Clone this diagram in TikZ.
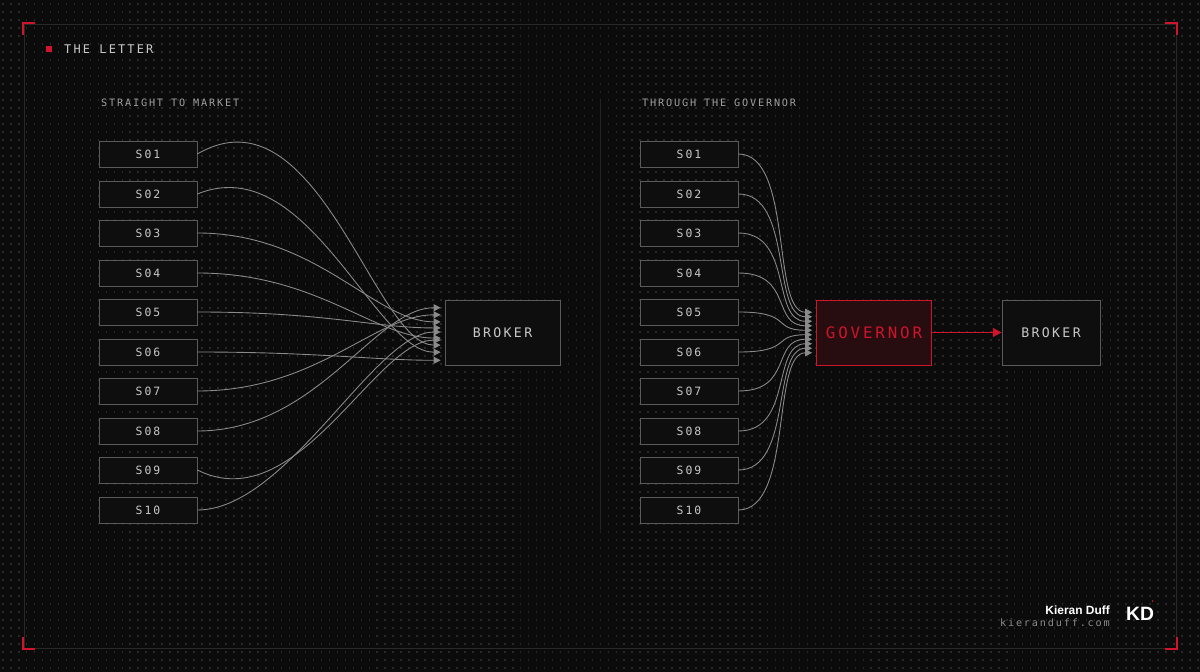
\documentclass[tikz,border=0pt]{standalone}
\usepackage{fontspec}
\usetikzlibrary{arrows.meta,positioning,calc}
\newfontfamily\monoft[LetterSpace=18]{DejaVu Sans Mono}
\newfontfamily\namefont{Liberation Sans}
\definecolor{bgc}{HTML}{0B0B0B}
\definecolor{boxfill}{HTML}{0E0E0E}
\definecolor{boxline}{HTML}{5A5A5A}
\definecolor{txt}{HTML}{C8C8C8}
\definecolor{redc}{HTML}{D0142C}
\definecolor{wire}{HTML}{8A8A8A}
\begin{document}
\begin{tikzpicture}[
    x=0.02cm, y=-0.02cm,
    src/.style={rectangle, draw=boxline, fill=boxfill, minimum width=1.96cm, minimum height=0.52cm, inner sep=0pt, font=\monoft\fontsize{6.5}{7}\selectfont, text=txt},
    sink/.style={rectangle, draw=boxline, fill=boxfill, minimum width=2.3cm, minimum height=1.3cm, inner sep=0pt, font=\monoft\fontsize{7.5}{8}\selectfont, text=txt},
    head/.style={font=\monoft\fontsize{5.8}{6}\selectfont, text=txt!80!black, anchor=west},
    wirec/.style={draw=wire, line width=0.5pt, -{Triangle[length=4pt,width=4pt]}},
    corner/.style={draw=redc, line width=1pt}
]
\useasboundingbox (0,0) rectangle (1200,672);
\fill[bgc] (0,0) rectangle (1200,672);
% dot grid
\foreach \r in {4,12,...,668}
  \draw[white!12!bgc, line width=0.9pt, dash pattern=on 0.9pt off 3.635pt] (2,\r) -- (1200,\r);
% frame and corners
\draw[white!12!bgc, line width=0.4pt] (24,24) rectangle (1176,648);
\draw[white!10!bgc, line width=0.4pt] (600,100) -- (600,530);
\draw[corner] (23,35) -- (23,23) -- (35,23);
\draw[corner] (1165,23) -- (1177,23) -- (1177,35);
\draw[corner] (23,637) -- (23,649) -- (35,649);
\draw[corner] (1165,649) -- (1177,649) -- (1177,637);

% titles
\fill[redc] (46,46) rectangle (52,52);
\node[font=\monoft\fontsize{6.8}{7}\selectfont, text=txt, anchor=west] (title) at (58,49) {THE LETTER};
\node[head] (lefthead) at (95,103) {STRAIGHT TO MARKET};
\node[head] (righthead) at (636,103) {THROUGH THE GOVERNOR};

% boxes
\foreach \i/\y in {1/154,2/194,3/233,4/273,5/312,6/352,7/391,8/431,9/470,10/510} {
  \node[src] (s\i) at (148,\y) {S\ifnum\i<10 0\fi\i};
  \node[src] (r\i) at (689,\y) {S\ifnum\i<10 0\fi\i};
}
\node[sink] (broker) at (502.5,332.5) {BROKER};
\node[sink, draw=redc, fill=redc!14!bgc, text=redc, font=\monoft\fontsize{9}{10}\selectfont] (gov) at (874,332.5) {GOVERNOR};
\node[sink, minimum width=1.96cm] (broker2) at (1051,332.5) {BROKER};

% straight to market
\foreach \i/\t/\dx/\dy in {1/345/120/-70,2/352/110/-45,3/322/120/0,4/338/120/0,5/328/130/0,6/360/120/0,7/315/120/0,8/308/120/0,9/340/100/50,10/332/90/0}
  \draw[wirec] (s\i.east) .. controls ($(s\i.east)+(\dx,\dy)$) and ($(broker.north west)!{(\t-300)/65}!(broker.south west)+(-70,0)$) .. ($(broker.north west)!{(\t-300)/65}!(broker.south west)+(-4,0)$);

% through the governor
\foreach \i in {1,...,10}
  \draw[wirec] (r\i.east) .. controls ($(r\i.east)+(55,0)$) and ($(gov.west)+(-45,{(\i-5.5)*4.5})$) .. ($(gov.west)+(-4,{(\i-5.5)*4.5})$);
\draw[draw=redc, line width=0.8pt, -{Triangle[length=5pt,width=5pt]}] (gov) -- (broker2);

% signature
\node[font=\namefont\bfseries\fontsize{6.8}{7}\selectfont, text=white, anchor=east] (name) at (1116,610) {Kieran Duff};
\node[font=\monoft\fontsize{5.8}{6}\selectfont, text=txt!70!black, anchor=east] (site) at (1116,623) {kieranduff.com};
\node[font=\namefont\bfseries\fontsize{11}{12}\selectfont, text=white] (logo) at (1140,614) {KD};
\fill[redc] (1152.5,601) circle (0.8);
\end{tikzpicture}
\end{document}
